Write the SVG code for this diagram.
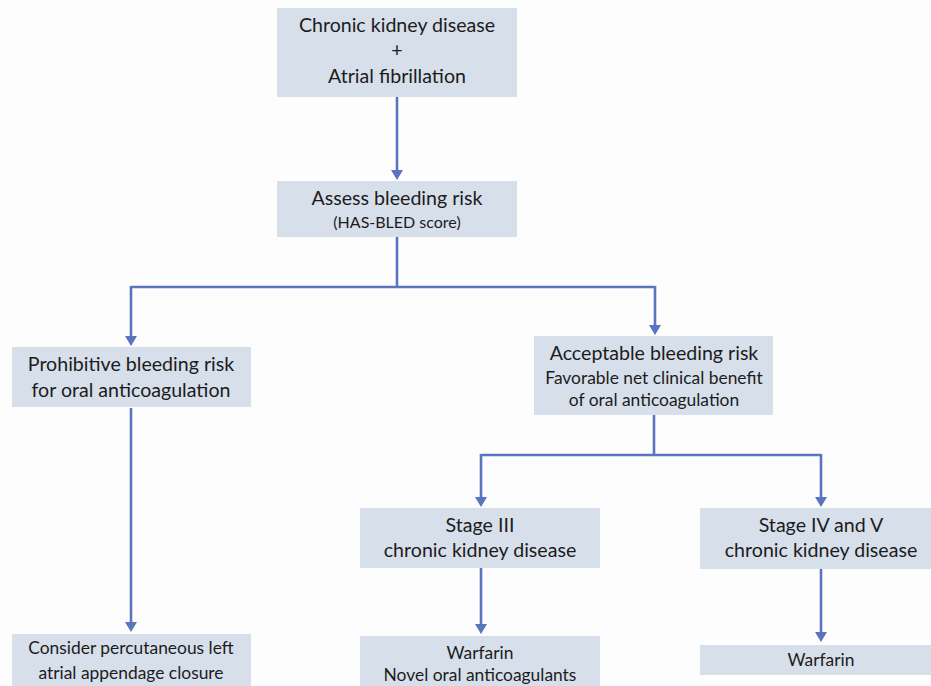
<svg xmlns="http://www.w3.org/2000/svg" width="931" height="686" viewBox="0 0 931 686">
<defs>
<style>
.box{fill:#d7dfeb}
.t{font-family:Lato,"Open Sans","Liberation Sans",sans-serif;fill:#1c1c1c;text-anchor:middle;font-size:19.6px}
.s{font-size:17.4px}
.xs{font-size:16px}
.c{fill:none;stroke:#5a74bd;stroke-width:2.6}
.h{fill:#5a74bd}
</style>
</defs>
<rect width="931" height="686" fill="#fdfdfe"/>

<g id="connectors">
<path class="c" d="M397,97 V174"/>
<path class="h" d="M391,170 L403,170 L397,180 Z"/>
<path class="c" d="M397,237 V287 M131,287 H655 M131,286 V340 M655,286 V328"/>
<path class="h" d="M125,336 L137,336 L131,346 Z"/>
<path class="h" d="M649,325 L661,325 L655,335 Z"/>
<path class="c" d="M654,415 V455 M481,455 H821 M481,454 V500 M821,454 V500"/>
<path class="h" d="M475,497 L487,497 L481,507 Z"/>
<path class="h" d="M815,497 L827,497 L821,507 Z"/>
<path class="c" d="M131,408 V625"/>
<path class="h" d="M125,622 L137,622 L131,632 Z"/>
<path class="c" d="M481,568 V626"/>
<path class="h" d="M475,624 L487,624 L481,634 Z"/>
<path class="c" d="M821,569 V634"/>
<path class="h" d="M815,632 L827,632 L821,642 Z"/>
</g>

<g id="ckd-af">
<rect class="box" x="277" y="8" width="240" height="89"/>
<text class="t" x="397" y="32">Chronic kidney disease</text>
<text class="t" x="397" y="57">+</text>
<text class="t" x="397" y="83">Atrial fibrillation</text>
</g>

<g id="assess">
<rect class="box" x="277" y="181" width="240" height="56"/>
<text class="t" x="397" y="205">Assess bleeding risk</text>
<text class="t xs" x="397" y="228">(HAS-BLED score)</text>
</g>

<g id="prohibitive">
<rect class="box" x="12" y="347" width="239" height="60"/>
<text class="t" x="131" y="371">Prohibitive bleeding risk</text>
<text class="t" x="131" y="397">for oral anticoagulation</text>
</g>

<g id="acceptable">
<rect class="box" x="534" y="336" width="239" height="79"/>
<text class="t" x="654" y="360">Acceptable bleeding risk</text>
<text class="t s" x="654" y="384">Favorable net clinical benefit</text>
<text class="t s" x="654" y="406">of oral anticoagulation</text>
</g>

<g id="stage3">
<rect class="box" x="360" y="508" width="240" height="60"/>
<text class="t" x="480" y="532">Stage III</text>
<text class="t" x="480" y="557">chronic kidney disease</text>
</g>

<g id="stage45">
<rect class="box" x="700" y="508" width="233" height="61"/>
<text class="t" x="821" y="532">Stage IV and V</text>
<text class="t" x="821" y="557">chronic kidney disease</text>
</g>

<g id="closure">
<rect class="box" x="12" y="634" width="239" height="52"/>
<text class="t s" x="131" y="654">Consider percutaneous left</text>
<text class="t s" x="131" y="679">atrial appendage closure</text>
</g>

<g id="stage3-drugs">
<rect class="box" x="360" y="636" width="240" height="50"/>
<text class="t s" x="480" y="659">Warfarin</text>
<text class="t s" x="480" y="681">Novel oral anticoagulants</text>
</g>

<g id="stage45-drugs">
<rect class="box" x="700" y="645" width="233" height="30"/>
<text class="t s" x="821" y="666">Warfarin</text>
</g>
</svg>
